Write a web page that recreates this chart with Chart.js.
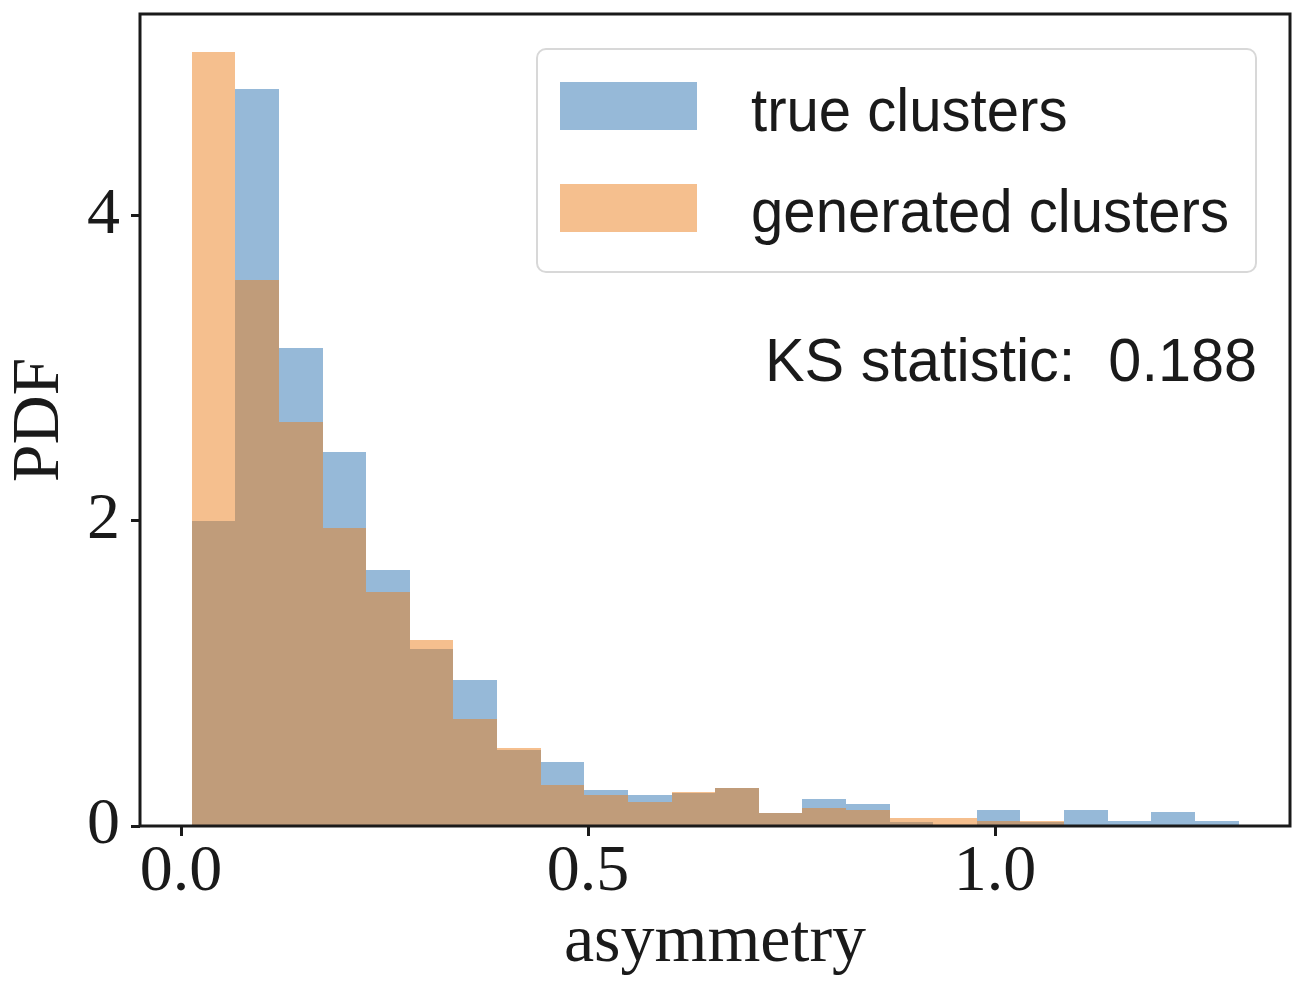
<!DOCTYPE html>
<html>
<head>
<meta charset="utf-8">
<script src="https://cdn.jsdelivr.net/npm/chart.js@4.4.0/dist/chart.umd.min.js"></script>
<style>
  html, body { margin: 0; padding: 0; background: #ffffff; }
  #wrap { width: 1308px; height: 988px; position: relative; }
</style>
</head>
<body>
<div id="wrap"><canvas id="c" width="1308" height="988"></canvas></div>
<script>
// ---------------- data ----------------
const binEdges = [0.0131, 0.0667, 0.1203, 0.1739, 0.2275, 0.2811, 0.3346, 0.3882, 0.4418, 0.4954,
                  0.5490, 0.6026, 0.6562, 0.7098, 0.7634, 0.8170, 0.8706, 0.9242, 0.9778, 1.0313,
                  1.0849, 1.1385, 1.1921, 1.2457, 1.2993];
const trueClusters = [2.00, 4.83, 3.13, 2.45, 1.68, 1.16, 0.955, 0.50, 0.42, 0.235, 0.20, 0.215,
                      0.25, 0.088, 0.177, 0.142, 0.025, 0.0, 0.105, 0.025, 0.105, 0.03, 0.09, 0.03];
const generatedClusters = [5.07, 3.58, 2.65, 1.95, 1.53, 1.22, 0.70, 0.51, 0.27, 0.20, 0.16, 0.22,
                           0.25, 0.088, 0.12, 0.105, 0.05, 0.05, 0.03, 0.03, 0.0, 0.0, 0.0, 0.0];
const seriesNames = ['true clusters', 'generated clusters'];
const xTickValues = [0.0, 0.5, 1.0];
const yTickValues = [0, 2, 4];
const xLabel = 'asymmetry';
const yLabel = 'PDF';
const ksText = 'KS statistic:  0.188';

// ---------------- helpers ----------------
const binCenters = binEdges.slice(0, -1).map((e, i) => (e + binEdges[i + 1]) / 2);
const toPoints = vals => vals.map((v, i) => ({ x: binCenters[i], y: v }));

const BLUE = 'rgba(45,115,177,0.5)';
const ORANGE = 'rgba(235,127,29,0.5)';
const INK = '#1a1a1a';
const SERIF = '"Liberation Serif", "DejaVu Serif", serif';
const SANS = '"Liberation Sans", "DejaVu Sans", sans-serif';

// snap bar edges to whole pixels (bin edges through the x scale) so adjacent bars show no seams
const snapPlugin = {
  id: 'snapBars',
  beforeDatasetsDraw(chart) {
    const xs = chart.scales.x;
    chart.getSortedVisibleDatasetMetas().forEach(meta => {
      meta.data.forEach((el, i) => {
        const L = Math.round(xs.getPixelForValue(binEdges[i]));
        const R = Math.round(xs.getPixelForValue(binEdges[i + 1]));
        el.x = (L + R) / 2;
        el.width = R - L;
        el.y = Math.round(el.y);
        el.base = Math.round(el.base);
      });
    });
  }
};

const framePlugin = {
  id: 'frameLegend',
  afterDraw(chart) {
    const { ctx, chartArea: a } = chart;
    ctx.save();
    // spines
    ctx.strokeStyle = INK;
    ctx.lineWidth = 3;
    ctx.strokeRect(a.left, a.top, a.right - a.left, a.bottom - a.top);

    // legend box
    const bw = 719, bh = 223;
    const bx = a.right - 34 - bw, by = a.top + 35;
    ctx.beginPath();
    ctx.roundRect(bx, by, bw, bh, 9);
    ctx.fillStyle = 'rgba(255,255,255,0.8)';
    ctx.fill();
    ctx.lineWidth = 2;
    ctx.strokeStyle = '#d8d8d8';
    ctx.stroke();

    ctx.font = '62px ' + SANS;
    ctx.fillStyle = INK;
    ctx.textBaseline = 'alphabetic';
    const sx = 478 / ctx.measureText(seriesNames[1]).width;
    const rows = [{ py: 33, ty: 82 }, { py: 135, ty: 183 }];
    chart.data.datasets.forEach((ds, i) => {
      ctx.fillStyle = ds.backgroundColor;
      ctx.fillRect(bx + 23, by + rows[i].py, 137, 48);
      ctx.fillStyle = INK;
      ctx.save();
      ctx.translate(bx + 214, by + rows[i].ty);
      ctx.scale(sx, 1);
      ctx.textAlign = 'left';
      ctx.fillText(ds.label, 0, 0);
      ctx.restore();
    });

    // KS statistic annotation
    const sk = 492 / ctx.measureText(ksText).width;
    ctx.save();
    ctx.translate(a.right - 33, a.top + 367);
    ctx.scale(sk, 1);
    ctx.textAlign = 'right';
    ctx.fillStyle = INK;
    ctx.fillText(ksText, 0, 0);
    ctx.restore();

    ctx.restore();
  }
};

const barStyle = { grouped: false, barPercentage: 1, categoryPercentage: 1, borderWidth: 0, inflateAmount: 0 };

new Chart(document.getElementById('c').getContext('2d'), {
  type: 'bar',
  data: {
    datasets: [
      Object.assign({ label: seriesNames[0], data: toPoints(trueClusters), backgroundColor: BLUE, order: 1 }, barStyle),
      Object.assign({ label: seriesNames[1], data: toPoints(generatedClusters), backgroundColor: ORANGE, order: 0 }, barStyle)
    ]
  },
  options: {
    responsive: false,
    animation: false,
    layout: { padding: { left: 0, right: 18, top: 14, bottom: 0 } },
    plugins: { legend: { display: false }, tooltip: { enabled: false } },
    scales: {
      x: {
        type: 'linear',
        min: -0.0504,
        max: 1.3624,
        offset: false,
        afterBuildTicks: s => { s.ticks = xTickValues.map(v => ({ value: v })); },
        afterFit: s => { s.height = 162; s.paddingLeft = 0; s.paddingRight = 0; },
        border: { display: false },
        grid: { display: true, offset: false, drawOnChartArea: false, drawTicks: true, tickLength: 10, tickWidth: 3, tickColor: INK },
        ticks: {
          color: INK, padding: 4, maxRotation: 0, autoSkip: false,
          font: { family: SERIF, size: 66, lineHeight: 1 },
          callback: v => Number(v).toFixed(1)
        },
        title: {
          display: true, text: xLabel, color: INK,
          font: { family: SERIF, size: 68, lineHeight: 1 },
          padding: { top: 0, bottom: 11 }
        }
      },
      y: {
        min: 0,
        max: 5.32,
        afterBuildTicks: s => { s.ticks = yTickValues.map(v => ({ value: v })); },
        afterFit: s => { s.width = 140; s.paddingTop = 0; s.paddingBottom = 0; },
        border: { display: false },
        grid: { display: true, offset: false, drawOnChartArea: false, drawTicks: true, tickLength: 9, tickWidth: 3, tickColor: INK },
        ticks: {
          color: INK, padding: 11,
          font: { family: SERIF, size: 66, lineHeight: 1 },
          callback: v => String(v)
        },
        title: {
          display: true, text: yLabel, color: INK,
          font: { family: SERIF, size: 68, lineHeight: 1 },
          padding: { top: 6, bottom: 0 }
        }
      }
    }
  },
  plugins: [snapPlugin, framePlugin]
});
</script>
</body>
</html>
